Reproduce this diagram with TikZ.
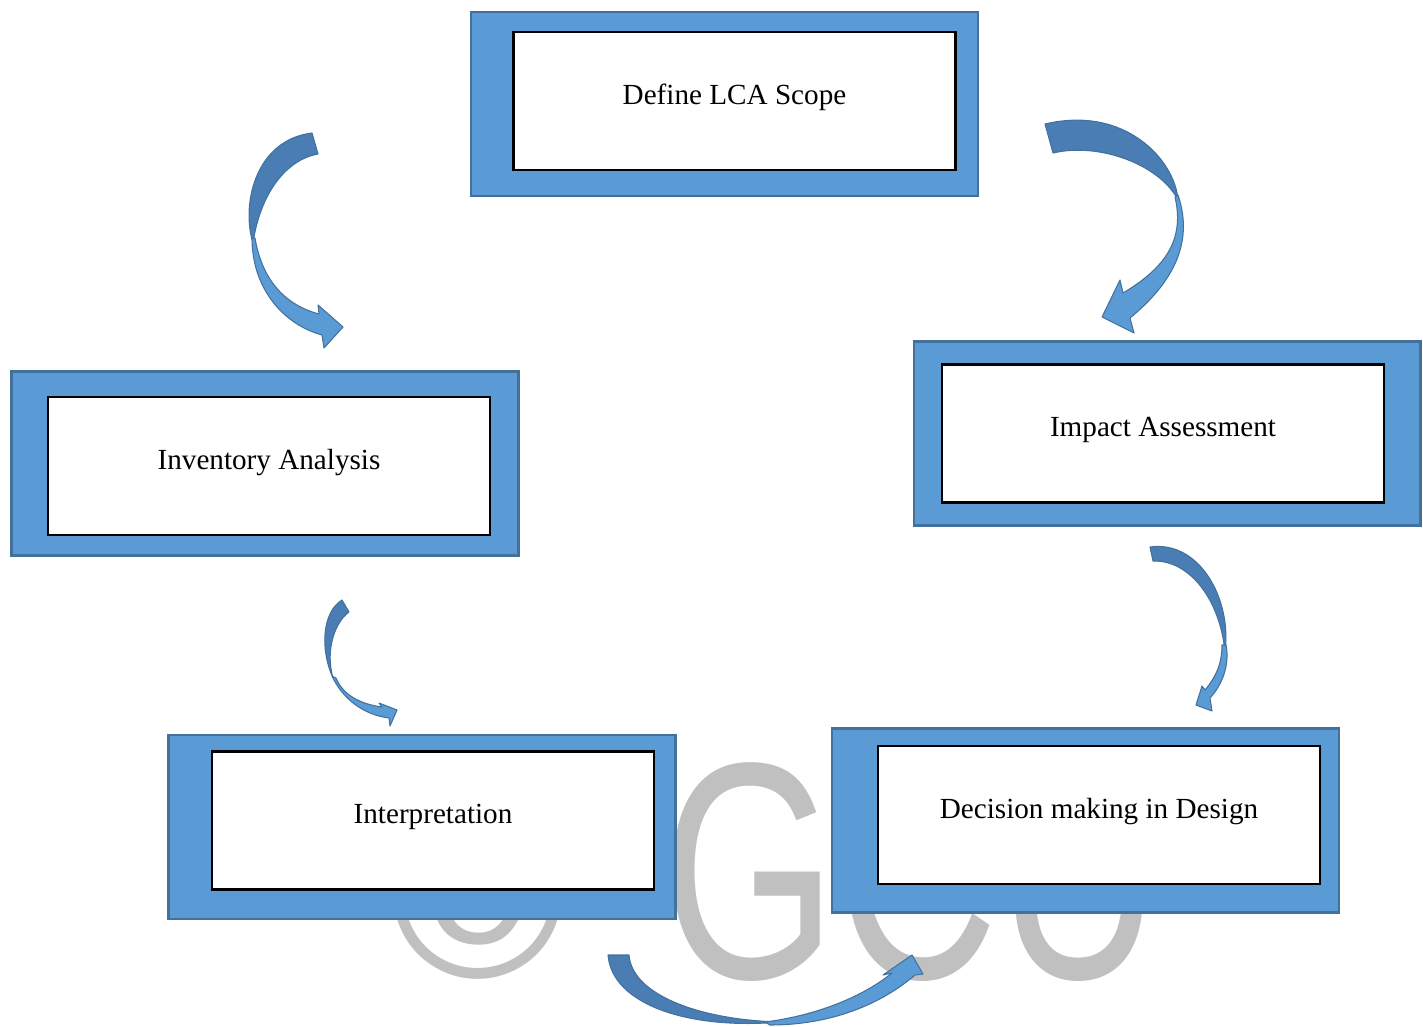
\documentclass[tikz,border=0pt]{standalone}
\usepackage{fontspec}
\setmainfont{Liberation Serif}
\newfontfamily\wmfont{Liberation Sans}
\usepackage{xcolor}
\definecolor{boxblue}{HTML}{5B9BD5}
\definecolor{boxedge}{HTML}{41719C}
\definecolor{arrdark}{HTML}{4A7DB4}
\definecolor{wmgray}{RGB}{192,192,192}

\begin{document}
\begin{tikzpicture}[
    x=0.02cm, y=-0.02cm,
    stagebg/.style={rectangle, draw=boxedge, fill=boxblue, line width=1.2pt, minimum width=10.14cm, minimum height=3.68cm, inner sep=0pt},
    stagebox/.style={rectangle, draw=black, fill=white, line width=1.2pt, minimum width=8.84cm, minimum height=2.76cm, inner sep=0pt, text height=11.5pt, text depth=8pt, font=\fontsize{16.6}{20}\selectfont},
    arrback/.style={fill=arrdark, draw=boxedge, line width=0.6pt, line join=round},
    arrfront/.style={fill=boxblue, draw=boxedge, line width=0.6pt, line join=round},
    watermark/.style={text=wmgray, inner sep=0pt, anchor=base west},
  ]
    \useasboundingbox (0,0) rectangle (1423,1027);
    \node[watermark, font=\wmfont\fontsize{135}{135}\selectfont] (wmcopy) at (390,977) {©};
    \node[watermark, font=\wmfont\fontsize{176}{176}\selectfont, xscale=0.725] (wmgcu) at (662,978) {GCU};

    \node[stagebg] (scopebg) at (724.5,104) {};
    \node[stagebox] (scope) at (734.5,101) {Define LCA Scope};
    \node[stagebg] (inventorybg) at (265,463.5) {};
    \node[stagebox] (inventory) at (269,466) {Inventory Analysis};
    \node[stagebg] (impactbg) at (1167,433.5) {};
    \node[stagebox] (impact) at (1163,433.5) {Impact Assessment};
    \node[stagebg] (interpbg) at (422,827) {};
    \node[stagebox] (interp) at (433,820.5) {Interpretation};
    \node[stagebg] (decisionbg) at (1085.5,820.5) {};
    \node[stagebox] (decision) at (1099,815) {Decision making in Design};

    \path[arrback] (312,133) -- (318,154) .. controls (285,160) and (260,195) .. (253,243) .. controls (241,205) and (255,140) .. (312,133) -- cycle;
    \path[arrfront] (252,238) .. controls (252,290) and (285,325) .. (322,335) -- (324,348) -- (343,327) -- (318,305) -- (319,314) .. controls (285,305) and (262,280) .. (255,238) -- cycle;

    \path[arrback] (1045,124) -- (1053,153) .. controls (1100,142) and (1160,165) .. (1178,200) .. controls (1175,160) and (1125,105) .. (1045,124) -- cycle;
    \path[arrfront] (1178,195) .. controls (1195,245) and (1170,285) .. (1130,318) -- (1134,333) -- (1102,317) -- (1120,280) -- (1123,293) .. controls (1165,268) and (1185,240) .. (1175,197) -- cycle;

    \path[arrback] (342,600) -- (349,612) .. controls (335,622) and (325,650) .. (333,678) .. controls (320,650) and (322,612) .. (342,600) -- cycle;
    \path[arrfront] (332,676) .. controls (343,700) and (365,715) .. (389,718) -- (390,726) -- (397,710) -- (379,703) -- (382,707) .. controls (360,704) and (343,695) .. (336,678) -- cycle;

    \path[arrback] (1150,547) -- (1153,561) .. controls (1190,560) and (1220,600) .. (1225,652) .. controls (1232,600) and (1200,540) .. (1150,547) -- cycle;
    \path[arrfront] (1226,645) .. controls (1230,665) and (1222,685) .. (1210,698) -- (1212,711) -- (1196,705) -- (1202,686) -- (1205,690) .. controls (1215,678) and (1222,665) .. (1222,645) -- cycle;

    \path[arrback] (608,955) -- (629,955) .. controls (632,995) and (700,1020) .. (780,1022) .. controls (690,1030) and (612,1005) .. (608,955) -- cycle;
    \path[arrfront] (770,1025) .. controls (830,1025) and (880,1005) .. (915,975) -- (923,974) -- (912,955) -- (883,975) -- (892,973) .. controls (865,995) and (820,1015) .. (765,1022) -- cycle;
  \end{tikzpicture}
\end{document}
